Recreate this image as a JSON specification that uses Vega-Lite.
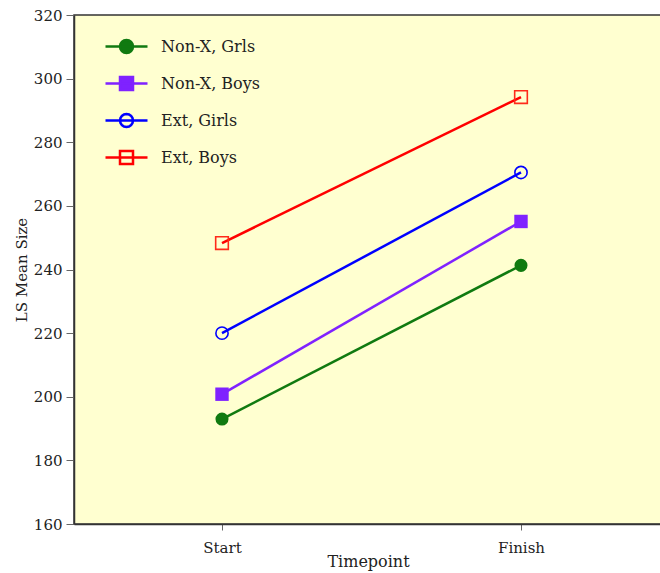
{
  "$schema": "https://vega.github.io/schema/vega-lite/v6.json",
  "width": 595,
  "height": 509,
  "autosize": "none",
  "padding": {"left": 74, "top": 15, "right": 0, "bottom": 49},
  "background": "white",
  "config": {
    "font": "DejaVu Serif",
    "view": {"stroke": "#333333", "strokeWidth": 1.5, "fill": "#ffffd0"}
  },
  "data": {
    "values": [
      {"group": "Non-X, Grls", "time": "Start", "size": 193},
      {"group": "Non-X, Grls", "time": "Finish", "size": 241.3},
      {"group": "Non-X, Boys", "time": "Start", "size": 200.8},
      {"group": "Non-X, Boys", "time": "Finish", "size": 255.1},
      {"group": "Ext, Girls", "time": "Start", "size": 220},
      {"group": "Ext, Girls", "time": "Finish", "size": 270.5},
      {"group": "Ext, Boys", "time": "Start", "size": 248.3},
      {"group": "Ext, Boys", "time": "Finish", "size": 294.2}
    ]
  },
  "encoding": {
    "x": {
      "field": "time", "type": "ordinal",
      "scale": {"type": "point", "domain": ["Start", "Finish"], "padding": 0.495},
      "axis": {
        "title": "Timepoint", "titleFontSize": 16, "titleFontWeight": "normal", "titleColor": "#222",
        "titlePadding": -2, "titleX": 294,
        "labelFontSize": 15, "labelColor": "#222", "labelPadding": 10, "labelAngle": 0,
        "tickSize": 6, "tickColor": "#666", "domainColor": "#333", "domainWidth": 1.5
      }
    },
    "y": {
      "field": "size", "type": "quantitative",
      "scale": {"domain": [160, 320], "nice": false, "zero": false},
      "axis": {
        "title": "LS Mean Size", "titleFontSize": 15, "titleFontWeight": "normal", "titleColor": "#222",
        "titlePadding": 4, "values": [160, 180, 200, 220, 240, 260, 280, 300, 320],
        "labelFontSize": 15, "labelColor": "#222", "labelPadding": 4,
        "tickSize": 8, "tickColor": "#666", "domainColor": "#333", "domainWidth": 1.5, "grid": false
      }
    }
  },
  "layer": [
    {
      "mark": {"type": "line", "strokeWidth": 2.5},
      "encoding": {
        "color": {
          "field": "group", "type": "nominal",
          "scale": {
            "domain": ["Non-X, Grls", "Non-X, Boys", "Ext, Girls", "Ext, Boys"],
            "range": ["#107a10", "#7f22ff", "#0000ff", "#ff0000"]
          },
          "legend": {
            "orient": "none", "legendX": 41, "legendY": 20, "title": null,
            "labelFontSize": 16, "labelColor": "#222", "labelOffset": 23,
            "symbolSize": 400, "rowPadding": 14, "symbolStrokeWidth": 2.5, "symbolOpacity": 1,
            "encode": {
              "symbols": {
                "update": {
                  "fill": {"signal": "datum.value === 'Non-X, Grls' ? '#107a10' : datum.value === 'Non-X, Boys' ? '#7f22ff' : 'transparent'"}
                }
              }
            }
          }
        }
      }
    },
    {
      "transform": [{"filter": "datum.group === 'Non-X, Grls'"}],
      "mark": {"type": "point", "shape": "circle", "filled": true, "color": "#107a10", "size": 170, "opacity": 1}
    },
    {
      "transform": [{"filter": "datum.group === 'Non-X, Boys'"}],
      "mark": {"type": "point", "shape": "square", "filled": true, "color": "#7f22ff", "size": 180, "opacity": 1}
    },
    {
      "transform": [{"filter": "datum.group === 'Ext, Girls'"}],
      "mark": {"type": "point", "shape": "circle", "filled": false, "color": "#0000ff", "size": 150, "strokeWidth": 1.6, "opacity": 1}
    },
    {
      "transform": [{"filter": "datum.group === 'Ext, Boys'"}],
      "mark": {"type": "point", "shape": "square", "filled": false, "color": "#ff2a1a", "size": 160, "strokeWidth": 1.6, "opacity": 1}
    },
    {
      "mark": {"type": "point", "opacity": 0},
      "encoding": {
        "color": {"field": "group", "type": "nominal"},
        "shape": {
          "field": "group", "type": "nominal",
          "scale": {
            "domain": ["Non-X, Grls", "Non-X, Boys", "Ext, Girls", "Ext, Boys"],
            "range": [
              "M-2.1,0L2.1,0M0.65,0L0.6,0.25L0.46,0.46L0.25,0.6L0,0.65L-0.25,0.6L-0.46,0.46L-0.6,0.25L-0.65,0L-0.6,-0.25L-0.46,-0.46L-0.25,-0.6L0,-0.65L0.25,-0.6L0.46,-0.46L0.6,-0.25Z",
              "M-2.1,0L2.1,0M-0.65,-0.65L0.65,-0.65L0.65,0.65L-0.65,0.65Z",
              "M-2.1,0L2.1,0M0.65,0L0.6,0.25L0.46,0.46L0.25,0.6L0,0.65L-0.25,0.6L-0.46,0.46L-0.6,0.25L-0.65,0L-0.6,-0.25L-0.46,-0.46L-0.25,-0.6L0,-0.65L0.25,-0.6L0.46,-0.46L0.6,-0.25Z",
              "M-2.1,0L2.1,0M-0.65,-0.65L0.65,-0.65L0.65,0.65L-0.65,0.65Z"
            ]
          }
        }
      }
    }
  ]
}
